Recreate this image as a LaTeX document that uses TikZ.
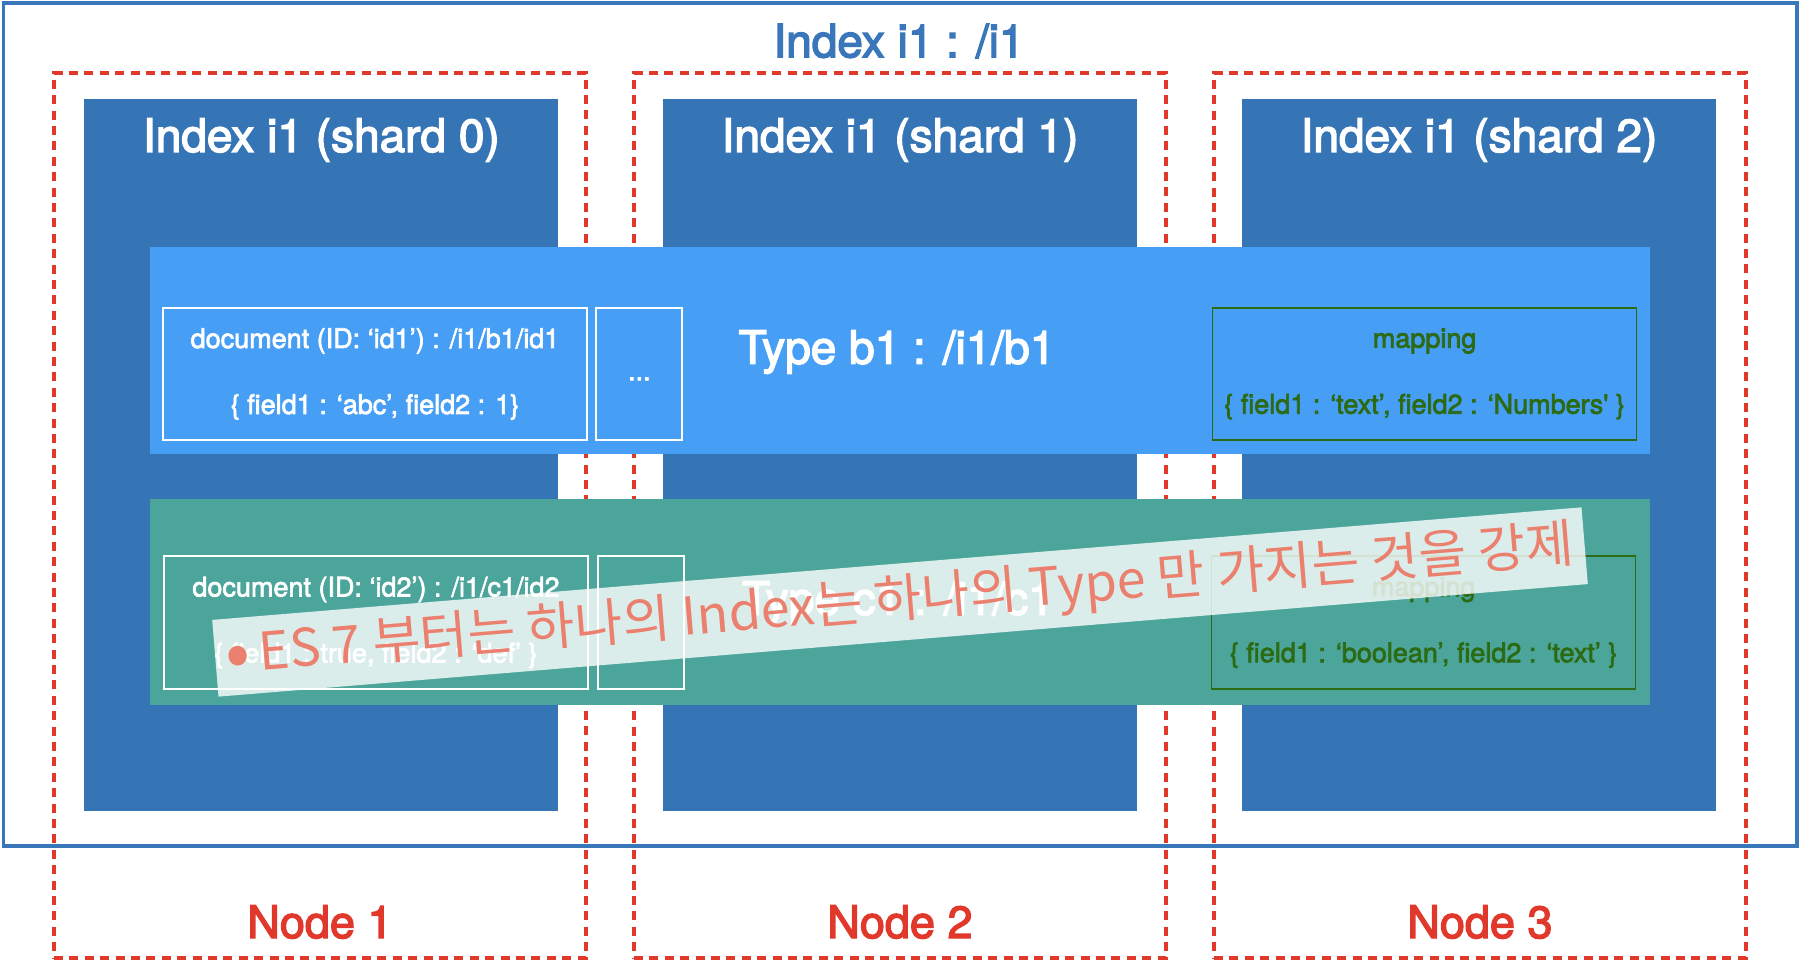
\documentclass[tikz,border=0pt]{standalone}
\usepackage{fontspec}
\setmainfont{TeX Gyre Heros}
\newfontfamily\headfont{TeX Gyre Heros}[FakeBold=3]
\newfontfamily\bodyfont{TeX Gyre Heros}[FakeBold=2.5]
\newfontfamily\kofont{Noto Sans CJK KR}
\usepackage{tikz}
\usetikzlibrary{positioning}
\usepackage{xcolor}

\definecolor{idxblue}{HTML}{3A76BA}
\definecolor{shardblue}{HTML}{3574B5}
\definecolor{typeblue}{HTML}{479EF5}
\definecolor{typeteal}{HTML}{4BA59B}
\definecolor{hostred}{HTML}{E0392B}
\definecolor{mapgreen}{HTML}{2C6A14}
\definecolor{notered}{HTML}{EB806E}

\begin{document}
\begin{tikzpicture}[
    x=1pt, y=-1pt,
    frame/.style={draw=idxblue, line width=1.7pt, fill=white, inner sep=0pt,
                  minimum width=896.8pt, minimum height=421.5pt},
    host/.style={draw=hostred, line width=2pt, dash pattern=on 4.5pt off 3.2pt,
                 minimum width=266pt, minimum height=442.5pt, inner sep=0pt},
    shard/.style={fill=shardblue, minimum width=237pt, minimum height=356pt, inner sep=0pt},
    band/.style={minimum width=750pt, minimum height=103.5pt, inner sep=0pt},
    small/.style={font=\bodyfont\fontsize{13.5}{16}\selectfont},
    doc/.style={small, draw=white, line width=1pt, minimum width=212pt,
                minimum height=66pt, inner sep=0pt, align=center, text=white},
    more/.style={small, draw=white, line width=1pt, minimum width=43pt,
                 minimum height=66pt, inner sep=0pt, text=white},
    map/.style={small, draw=mapgreen, line width=0.75pt, minimum width=212pt,
                minimum height=66pt, inner sep=0pt, align=center, text=mapgreen},
    big/.style={font=\headfont\fontsize{23}{27}\selectfont},
    hostlbl/.style={font=\headfont\fontsize{22.5}{27}\selectfont, text=hostred},
    note/.style={fill=white, fill opacity=0.8, text opacity=1, text=notered,
                 minimum width=687pt, minimum height=38.5pt, inner sep=0pt,
                 rotate=4.7, font=\kofont\fontsize{26}{30}\selectfont}
  ]
  \useasboundingbox (0,0) rectangle (900,481);

  % Index
  \node[frame] (idx) at (450,212.25) {};
  \node[big, text=idxblue] (idxlbl) at (449.5,20.5) {Index i1 : /i1};

  % Nodes (hosts)
  \node[host] (n1) at (160,257.75) {};
  \node[host] (n2) at (450,257.75) {};
  \node[host] (n3) at (740,257.75) {};
  \node[hostlbl] (n1lbl) at (160,461) {Node 1};
  \node[hostlbl] (n2lbl) at (450,461) {Node 2};
  \node[hostlbl] (n3lbl) at (740,461) {Node 3};

  % Shards
  \node[shard] (s0) at (160.5,227.5) {};
  \node[shard] (s1) at (450,227.5) {};
  \node[shard] (s2) at (739.5,227.5) {};
  \node[big, text=white] (s0lbl) at (160.7,70) {Index i1 (shard 0)};
  \node[big, text=white] (s1lbl) at (450,70) {Index i1 (shard 1)};
  \node[big, text=white] (s2lbl) at (739.5,70) {Index i1 (shard 2)};

  % Type b1
  \node[band, fill=typeblue] (tb1) at (450,175.25) {};
  \node[big, text=white] (tb1lbl) at (448.5,176) {Type b1 : /i1/b1};
  \node[doc] (d1) at (187.5,187)
    {document (ID: ‘id1’) : /i1/b1/id1\\[17pt]\{ field1 : ‘abc’, field2 : 1\}};
  \node[more] (dots1) at (319.7,187) {\strut...};
  \node[map] (m1) at (712.3,187)
    {mapping\\[17pt]\{ field1 : ‘text’, field2 : ‘Numbers\textquotesingle{} \}};

  % Type c1
  \node[band, fill=typeteal, minimum height=103pt] (tc1) at (450,301) {};
  \node[big, text=white] (tc1lbl) at (449,301.5) {Type c1 : /i1/c1};
  \node[doc, minimum height=66.5pt] (d2) at (188,311.25)
    {document (ID: ‘id2’) : /i1/c1/id2\\[17pt]\{ field1 : true, field2 : ‘def’ \}};
  \node[more, minimum height=66.5pt] (dots2) at (320.4,311.25) {};
  \node[map, minimum height=66.5pt] (m2) at (711.8,311.25)
    {mapping\\[17pt]\{ field1 : ‘boolean’, field2 : ‘text’ \}};

  % ES 7 note
  \node[note] (note) at (450,301)
    {\raisebox{-0.12em}{\scalebox{1.4}{•}}\,ES 7 부터는 하나의 Index는 하나의 Type 만 가지는 것을 강제};
\end{tikzpicture}
\end{document}
